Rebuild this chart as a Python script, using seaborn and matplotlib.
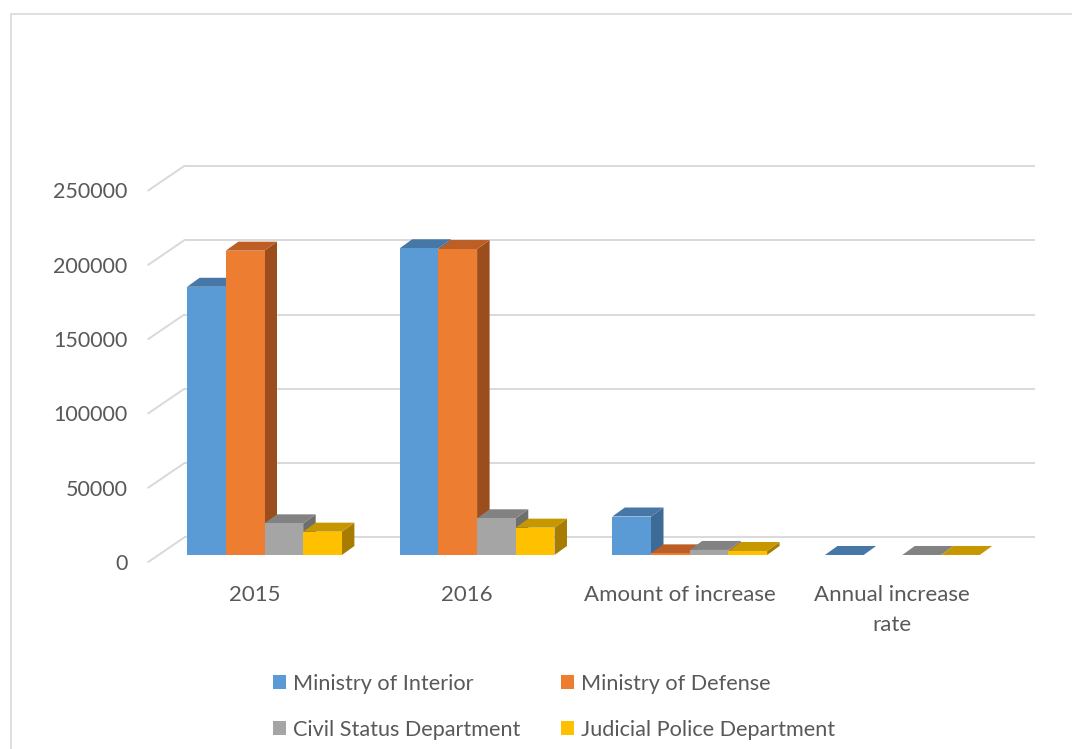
import numpy as np
import pandas as pd
import matplotlib
matplotlib.use("Agg")
import matplotlib.pyplot as plt
from matplotlib.patches import Polygon, Rectangle
from matplotlib.transforms import ScaledTranslation
import seaborn as sns

# ---- data -------------------------------------------------------------
categories = ["2015", "2016", "Amount of increase", "Annual increase\nrate"]
departments = ["Ministry of Interior", "Ministry of Defense",
               "Civil Status Department", "Judicial Police Department"]
interior = [180500, 206400, 25900, 14.35]
defense = [204800, 205900, 1100, np.nan]
civil = [21300, 24700, 3400, 15.96]
judicial = [15700, 18400, 2700, 17.20]
y_ticks = [0, 50000, 100000, 150000, 200000, 250000]

# ---- styling ----------------------------------------------------------
front_colors = ["#5B9BD5", "#ED7D31", "#A5A5A5", "#FFC000"]
top_colors = ["#4677A7", "#BD5E24", "#828282", "#C79700"]
side_colors = ["#3E6B96", "#9C4D1D", "#6E6E6E", "#A67D00"]
grid_color = "#D9D9D9"
text_color = "#595959"

sns.set_style("white")
plt.rcParams["font.family"] = ["Lato", "DejaVu Sans"]

rows = []
for name, vals in zip(departments, [interior, defense, civil, judicial]):
    for cat, v in zip(categories, vals):
        rows.append((cat, name, v))
df = pd.DataFrame(rows, columns=["category", "department", "value"])

W, H = 1072, 749
fig = plt.figure(figsize=(W / 100, H / 100), dpi=100)
fig.patch.set_facecolor("white")
# axes box = front plane of the bars
ax = fig.add_axes([158.2 / W, (H - 555) / H, 850.4 / W, 371.5 / H])

sns.barplot(data=df, x="category", y="value", hue="department",
            order=categories, hue_order=departments, palette=front_colors,
            width=0.728, saturation=1, errorbar=None, linewidth=0, ax=ax)

ax.set_xlim(-0.5, 3.5)
ax.set_ylim(0, 250000)
ax.set_xlabel("")
ax.set_ylabel("")
for s in ax.spines.values():
    s.set_visible(False)
ax.set_facecolor("none")

fig.canvas.draw()
p0 = ax.transData.transform((0, 0))
ppx = ax.transData.transform((1, 0))[0] - p0[0]   # pixels per category
ppy = ax.transData.transform((0, 1))[1] - p0[1]   # pixels per value unit

# depth offsets in pixels (right, up)
bar_d = (12.5, 9.0)
wall_d = (26.0, 17.5)
floor_d = (-10.0, -7.0)

# back wall gridlines and side wall diagonals
x_left, x_right = -0.5, 3.5
for v in y_ticks:
    yb = v + wall_d[1] / ppy
    ax.plot([x_left + wall_d[0] / ppx, x_right + wall_d[0] / ppx], [yb, yb],
            color=grid_color, lw=1.4, clip_on=False, zorder=0.5,
            solid_capstyle="butt")
    ax.plot([x_left + floor_d[0] / ppx, x_left + wall_d[0] / ppx],
            [v + floor_d[1] / ppy, yb],
            color=grid_color, lw=1.4, clip_on=False, zorder=0.5)

# 3-D top and side faces for each bar
ddx, ddy = bar_d[0] / ppx, bar_d[1] / ppy
for k, cont in enumerate(ax.containers):
    for bar in cont:
        h = bar.get_height()
        if not np.isfinite(h):
            continue
        x0, w = bar.get_x(), bar.get_width()
        bar.set_zorder(3 + 2 * k)
        top = Polygon([(x0, h), (x0 + w, h), (x0 + w + ddx, h + ddy),
                       (x0 + ddx, h + ddy)], closed=True,
                      facecolor=top_colors[k], edgecolor="none",
                      zorder=2 + 2 * k, clip_on=False)
        side = Polygon([(x0 + w, 0), (x0 + w + ddx, ddy),
                        (x0 + w + ddx, h + ddy), (x0 + w, h)], closed=True,
                       facecolor=side_colors[k], edgecolor="none",
                       zorder=2 + 2 * k, clip_on=False)
        ax.add_patch(side)
        ax.add_patch(top)

# axis labels on the front edge of the floor
ax.set_yticks(y_ticks)
ax.set_yticklabels([str(v) for v in y_ticks])
ax.tick_params(axis="y", length=0, pad=22, labelsize=15.5,
               labelcolor=text_color)
for lab in ax.get_yticklabels():
    lab.set_transform(lab.get_transform() +
                      ScaledTranslation(0, floor_d[1] / 100, fig.dpi_scale_trans))

ax.set_xticks(range(len(categories)))
ax.set_xticklabels(categories)
ax.tick_params(axis="x", length=0, pad=16.5, labelsize=16,
               labelcolor=text_color)
for lab in ax.get_xticklabels():
    lab.set_linespacing(1.62)
    lab.set_transform(lab.get_transform() +
                      ScaledTranslation(floor_d[0] / 100, floor_d[1] / 100,
                                        fig.dpi_scale_trans))

# legend in two rows
handles, labels = ax.get_legend_handles_labels()
if ax.get_legend() is not None:
    ax.get_legend().remove()
order = [0, 2, 1, 3]
fig.legend([handles[i] for i in order], [labels[i] for i in order],
           ncol=2, loc="upper left", bbox_to_anchor=(273 / W, 1 - 674 / H),
           frameon=False, fontsize=15.6, labelcolor=text_color,
           handlelength=0.62, handleheight=0.62, handletextpad=0.3,
           columnspacing=1.88, labelspacing=1.18, borderpad=0,
           borderaxespad=0)

# chart area border
fig.patches.append(Rectangle((11 / W, -0.1), 1.2, 1 - 14 / H + 0.1,
                             transform=fig.transFigure, fill=False,
                             edgecolor=grid_color, lw=1.2))

fig.savefig("out.png", dpi=100)
